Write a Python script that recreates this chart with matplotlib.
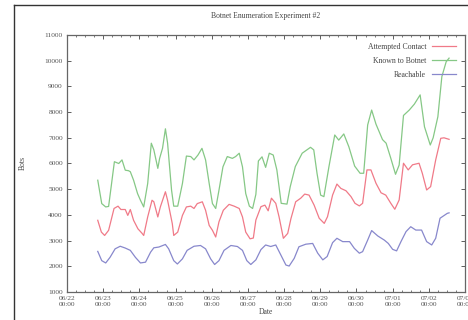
"""
Botnet Enumeration Experiment #2 の再現（gnuplot風の線グラフ）
出力: out.png
"""

import matplotlib
matplotlib.use("Agg")
import matplotlib.pyplot as plt
from matplotlib.lines import Line2D
from matplotlib.ticker import FixedLocator, MultipleLocator

plt.rcParams["font.family"] = ["Liberation Serif", "DejaVu Serif"]

# 日付ラベル（06/22 00:00 からの経過日数）
TICK_DAYS = list(range(0, 12))
TICK_LABELS = ["06/22\n00:00", "06/23\n00:00", "06/24\n00:00", "06/25\n00:00",
               "06/26\n00:00", "06/27\n00:00", "06/28\n00:00", "06/29\n00:00",
               "06/30\n00:00", "07/01\n00:00", "07/02\n00:00", "07/03\n00:00"]

# Attempted Contact
RED_DAYS = [0.85, 0.95, 1.04, 1.15, 1.30, 1.41, 1.49, 1.61, 1.68, 1.75, 1.84, 1.96,
            2.07, 2.12, 2.23, 2.35, 2.40, 2.51, 2.58, 2.72, 2.78, 2.91, 2.95, 3.06,
            3.19, 3.30, 3.42, 3.51, 3.60, 3.74, 3.83, 3.93, 4.02, 4.11, 4.20, 4.32,
            4.48, 4.62, 4.76, 4.85, 4.94, 5.06, 5.15, 5.22, 5.36, 5.47, 5.56, 5.65,
            5.77, 5.86, 5.98, 6.10, 6.19, 6.32, 6.46, 6.57, 6.69, 6.83, 6.97, 7.11,
            7.20, 7.34, 7.46, 7.57, 7.71, 7.85, 7.96, 8.08, 8.17, 8.29, 8.40, 8.54,
            8.68, 8.81, 8.95, 9.06, 9.18, 9.30, 9.43, 9.55, 9.73, 9.82, 9.94, 10.05,
            10.19, 10.33, 10.42, 10.56]
RED_VALS = [3790, 3330, 3200, 3400, 4250, 4340, 4210, 4210, 3980, 4210, 3790, 3460,
            3290, 3200, 3920, 4570, 4510, 3920, 4310, 4900, 4570, 3660, 3200, 3330,
            3980, 4310, 4340, 4250, 4440, 4510, 4180, 3590, 3400, 3140, 3730, 4180,
            4410, 4340, 4250, 3920, 3330, 3070, 3100, 3800, 4320, 4380, 4160, 4650,
            4450, 3930, 3090, 3280, 3860, 4510, 4650, 4810, 4770, 4380, 3870, 3670,
            3930, 4770, 5200, 5030, 4940, 4710, 4450, 4350, 4450, 5750, 5750, 5230,
            4860, 4770, 4450, 4220, 4580, 6010, 5750, 5950, 6010, 5620, 4970, 5100,
            6140, 6980, 7000, 6940]

# Known to Botnet
GREEN_DAYS = [0.85, 0.96, 1.07, 1.15, 1.31, 1.43, 1.52, 1.61, 1.70, 1.75, 1.84, 1.95,
              2.03, 2.12, 2.23, 2.33, 2.40, 2.51, 2.56, 2.64, 2.72, 2.78, 2.89, 2.95,
              3.06, 3.19, 3.30, 3.42, 3.51, 3.62, 3.73, 3.83, 3.93, 4.02, 4.11, 4.20,
              4.31, 4.43, 4.57, 4.66, 4.76, 4.85, 4.94, 5.04, 5.13, 5.22, 5.29, 5.39,
              5.49, 5.59, 5.70, 5.80, 5.92, 6.08, 6.17, 6.31, 6.50, 6.73, 6.82, 6.91,
              7.01, 7.10, 7.24, 7.40, 7.51, 7.65, 7.79, 7.95, 8.10, 8.20, 8.31, 8.42,
              8.54, 8.72, 8.82, 8.95, 9.08, 9.18, 9.30, 9.46, 9.60, 9.76, 9.88, 10.04,
              10.12, 10.25, 10.36, 10.48, 10.56]
GREEN_VALS = [5350, 4440, 4310, 4330, 6070, 6000, 6140, 5740, 5720, 5680, 5350, 4830,
              4570, 4310, 5220, 6790, 6530, 5810, 6200, 6590, 7350, 6790, 4960, 4340,
              4340, 5220, 6290, 6270, 6140, 6330, 6590, 6140, 5220, 4440, 4250, 4960,
              5870, 6270, 6200, 6270, 6400, 5870, 4830, 4340, 4250, 4800, 6100, 6260,
              5850, 6400, 6330, 5750, 4450, 4420, 5100, 5880, 6400, 6630, 6530, 5620,
              4770, 4710, 5880, 7110, 6910, 7150, 6650, 5900, 5620, 5620, 7500, 8080,
              7530, 6930, 6790, 6200, 5580, 5940, 7870, 8080, 8310, 8670, 7430, 6720,
              7000, 7820, 9380, 9960, 10100]

# Reachable
BLUE_DAYS = [0.85, 0.96, 1.07, 1.19, 1.33, 1.47, 1.61, 1.75, 1.89, 2.03, 2.17, 2.31,
             2.40, 2.54, 2.72, 2.81, 2.95, 3.05, 3.19, 3.32, 3.51, 3.69, 3.83, 3.97,
             4.08, 4.20, 4.34, 4.53, 4.71, 4.85, 4.97, 5.08, 5.22, 5.36, 5.49, 5.63,
             5.77, 5.91, 6.05, 6.14, 6.28, 6.41, 6.60, 6.79, 6.93, 7.07, 7.19, 7.34,
             7.46, 7.62, 7.81, 7.94, 8.08, 8.17, 8.31, 8.42, 8.59, 8.77, 8.88, 9.00,
             9.11, 9.23, 9.37, 9.50, 9.64, 9.80, 9.94, 10.08, 10.19, 10.31, 10.51, 10.56]
BLUE_VALS = [2580, 2220, 2130, 2350, 2680, 2780, 2710, 2620, 2350, 2130, 2160, 2550,
             2720, 2750, 2850, 2680, 2220, 2090, 2290, 2620, 2780, 2810, 2680, 2290,
             2070, 2220, 2620, 2810, 2770, 2620, 2220, 2070, 2250, 2650, 2830, 2770,
             2830, 2440, 2050, 2010, 2310, 2760, 2860, 2890, 2510, 2250, 2380, 2920,
             3090, 2960, 2960, 2700, 2510, 2570, 3020, 3390, 3180, 3020, 2890, 2660,
             2600, 2960, 3350, 3540, 3410, 3410, 2960, 2830, 3090, 3870, 4060, 4080]

W, H = 468, 320


def main():
    fig = plt.figure(figsize=(W / 100, H / 100), dpi=100)
    ax = fig.add_axes([67 / W, 1 - 292 / H, 398 / W, 257 / H])

    # 外枠（スクリーンショットの枠線）
    fig.add_artist(Line2D([14 / W, 14 / W], [0, 1 - 5 / H], color="#333333",
                          lw=1.0, transform=fig.transFigure))
    fig.add_artist(Line2D([14 / W, 1], [1 - 5 / H, 1 - 5 / H], color="#333333",
                          lw=1.0, transform=fig.transFigure))

    ax.plot(RED_DAYS, RED_VALS, color="#f07a88", lw=0.9, label="Attempted Contact")
    ax.plot(GREEN_DAYS, GREEN_VALS, color="#86c886", lw=0.9, label="Known to Botnet")
    ax.plot(BLUE_DAYS, BLUE_VALS, color="#8888cc", lw=0.9, label="Reachable")

    ax.set_xlim(0, 11)
    ax.set_ylim(1000, 11000)
    ax.xaxis.set_major_locator(FixedLocator(TICK_DAYS))
    ax.set_xticklabels(TICK_LABELS)
    ax.xaxis.set_minor_locator(MultipleLocator(0.25))
    ax.yaxis.set_major_locator(MultipleLocator(1000))

    ax.tick_params(which="both", direction="in", top=True, right=True,
                   labelsize=5.3, colors="#444444", pad=3)
    ax.tick_params(which="major", length=3, width=0.6)
    ax.tick_params(which="minor", length=1.6, width=0.5)
    for lbl in ax.get_xticklabels() + ax.get_yticklabels():
        lbl.set_color("#555555")
    for sp in ax.spines.values():
        sp.set_color("#666666")
        sp.set_linewidth(0.9)

    ax.set_title("Botnet Enumeration Experiment #2", fontsize=5.5,
                 color="#444444", pad=12)
    ax.set_ylabel("Bots", fontsize=5.5, color="#444444", labelpad=13)
    ax.set_xlabel("Date", fontsize=5.5, color="#444444", labelpad=1)

    leg = ax.legend(loc="upper right", frameon=False, fontsize=5.6,
                    markerfirst=False, handlelength=3.0, labelspacing=0.75,
                    borderaxespad=0.3, bbox_to_anchor=(0.99, 0.99))
    for t in leg.get_texts():
        t.set_color("#444444")

    fig.savefig("out.png", dpi=100)
    plt.close(fig)


if __name__ == "__main__":
    main()
